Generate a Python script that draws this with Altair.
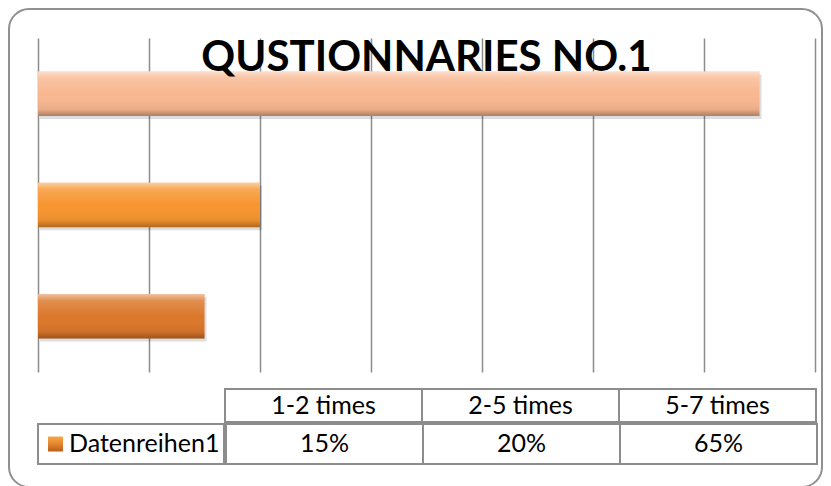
import altair as alt
import pandas as pd

categories = ["1-2 times", "2-5 times", "5-7 times"]
values = [15, 20, 65]
series_name = "Datenreihen1"
title_text = "QUSTIONNARIES NO.1"
bar_colors = ["#DB772A", "#F7952F", "#F8B790"]
grid_values = [0, 10, 20, 30, 40, 50, 60, 70]

df = pd.DataFrame({"cat": categories, "value": values})
df["label"] = [f"{v}%" for v in values]

FONT = "Lato"
GRID = "#8c8c8c"
W = 777
H = 334

y_enc = alt.Y("cat:N", sort=categories[::-1], axis=None,
              scale=alt.Scale(paddingInner=0.6, paddingOuter=0.3))
x_enc = alt.X("value:Q", scale=alt.Scale(domain=[0, 70], nice=False),
              axis=alt.Axis(values=grid_values, labels=False, ticks=False,
                            domain=False, grid=True, gridColor=GRID,
                            gridWidth=1.5, title=None))

base = alt.Chart(df)

frame = base.mark_rect(fillOpacity=0, stroke="#909090", strokeWidth=2,
                       cornerRadius=20).encode(
    x=alt.value(-29), x2=alt.value(784), y=alt.value(-29), y2=alt.value(449)
).transform_filter("datum.cat == '1-2 times'")

shadow = base.mark_bar(color="rgba(0,0,0,0.13)", xOffset=2, yOffset=3).encode(
    x=x_enc, y=y_enc)

bars = base.mark_bar().encode(
    x=x_enc, y=y_enc,
    color=alt.Color("cat:N", scale=alt.Scale(domain=categories, range=bar_colors),
                    legend=None))

bevel = base.mark_bar(color=alt.Gradient(
    gradient="linear", x1=0, y1=0, x2=0, y2=1,
    stops=[alt.GradientStop(offset=0, color="rgba(255,255,255,0.55)"),
           alt.GradientStop(offset=0.15, color="rgba(255,255,255,0.18)"),
           alt.GradientStop(offset=0.5, color="rgba(255,255,255,0.0)"),
           alt.GradientStop(offset=0.85, color="rgba(0,0,0,0.06)"),
           alt.GradientStop(offset=1, color="rgba(0,0,0,0.30)")])).encode(
    x=x_enc, y=y_enc)

title = base.mark_text(text=title_text, font=FONT, fontSize=42, fontWeight="bold",
                       color="black", baseline="alphabetic", align="center").encode(
    x=alt.value(W / 2), y=alt.value(33)
).transform_filter("datum.cat == '1-2 times'")

bar_chart = alt.layer(frame, shadow, bars, bevel, title).properties(width=W, height=H)

cell_stroke = dict(fill="white", stroke=GRID, strokeWidth=2)

# header row
blank = alt.Chart(pd.DataFrame({"a": [""]})).mark_text().encode(
    text="a:N").properties(width=186, height=33)
header_cells = base.mark_rect(**cell_stroke).encode(
    x=alt.X("cat:N", sort=categories, axis=None,
            scale=alt.Scale(paddingInner=0, paddingOuter=0)))
header_text = base.mark_text(font=FONT, fontSize=25, color="black").encode(
    x=alt.X("cat:N", sort=categories, axis=None), text="cat:N")
header_row = alt.hconcat(blank, alt.layer(header_cells, header_text).properties(width=591, height=33),
                         spacing=0)

# data row
leg_df = pd.DataFrame({"name": [series_name]})
leg_base = alt.Chart(leg_df)
leg_cell = leg_base.mark_rect(**cell_stroke).encode(x=alt.value(0), x2=alt.value(186))
leg_swatch = leg_base.mark_square(size=225, opacity=1, color=alt.Gradient(
    gradient="linear", x1=0, y1=0, x2=0, y2=1,
    stops=[alt.GradientStop(offset=0, color="#F5A94E"),
           alt.GradientStop(offset=0.5, color="#E3862C"),
           alt.GradientStop(offset=1, color="#B85E1C")])).encode(x=alt.value(17.5))
leg_text = leg_base.mark_text(font=FONT, fontSize=25, color="black", align="left").encode(
    x=alt.value(31), text="name:N")
leg_chart = alt.layer(leg_cell, leg_swatch, leg_text).properties(width=186, height=40)

val_cells = base.mark_rect(**cell_stroke).encode(
    x=alt.X("cat:N", sort=categories, axis=None,
            scale=alt.Scale(paddingInner=0, paddingOuter=0)))
val_text = base.mark_text(font=FONT, fontSize=25, color="black").encode(
    x=alt.X("cat:N", sort=categories, axis=None), text="label:N")
data_row = alt.hconcat(leg_chart, alt.layer(val_cells, val_text).properties(width=591, height=40),
                       spacing=0)

table = alt.vconcat(header_row, data_row, spacing=0)

chart = alt.vconcat(bar_chart, table, spacing=17, bounds="flush").properties(
    padding={"left": 0, "top": 0, "right": 0, "bottom": 0},
    background="white"
).configure_view(strokeWidth=0)

chart.save("out.html", embed_options={"renderer": "svg", "actions": False})
